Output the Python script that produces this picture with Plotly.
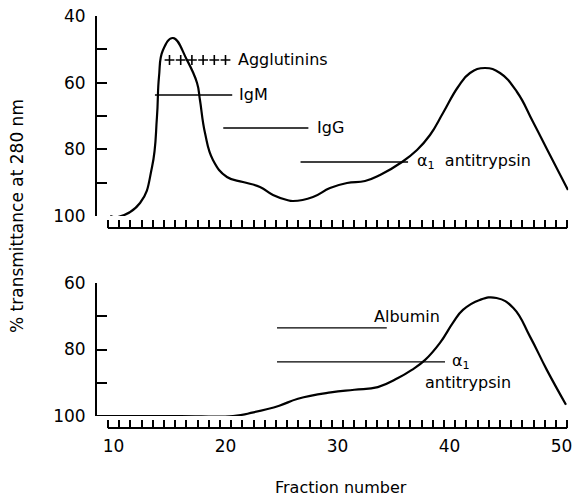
import plotly.graph_objects as go

# ---------------- data ----------------
top_fraction = [9.7, 10.4, 12.37, 13.44, 13.88, 14.06, 14.42, 15.31, 16.56, 17.46, 17.72, 18.17,
                18.88, 20.13, 21.56, 23.08, 24.24, 25.49, 26.03, 27.81, 29.33, 30.85, 32.46,
                33.80, 35.76, 37.10, 38.26, 39.42, 40.76, 41.83, 43.17, 44.51, 46.03, 47.46,
                48.97, 50.58]
top_transmittance = [100.0, 100.3, 96.1, 85.3, 70.3, 58.3, 50.2, 46.6, 53.2, 60.1, 65.2, 75.1,
                     83.2, 88.3, 89.8, 91.3, 93.7, 95.2, 95.5, 94.3, 91.6, 90.1, 89.5,
                     87.7, 83.8, 80.2, 75.7, 69.1, 61.3, 57.1, 55.6, 57.1, 62.8, 71.8,
                     81.7, 92.2]

bottom_fraction = [8.53, 12.0, 16.0, 20.67, 22.5, 24.8, 26.47, 29.4, 31.5, 33.6, 35.4, 36.6,
                   37.8, 39.15, 40.3, 41.2, 42.7, 44.2, 45.7, 47.2, 48.7, 50.4]
bottom_transmittance = [100.0, 100.0, 100.0, 100.0, 98.9, 96.9, 94.8, 92.9, 92.1, 91.3, 88.6, 86.2,
                        83.2, 78.0, 72.0, 68.1, 65.1, 64.5, 67.5, 76.2, 86.2, 96.6]

agglutinin_fractions = [15, 16, 17, 18, 19, 20]
agglutinin_level = 53.2

# bands: (label, start fraction, end fraction, level)
top_bands = [("IgM", 13.7, 20.6, 63.7),
             ("IgG", 19.8, 27.4, 73.6),
             ("α1", 26.7, 36.3, 83.8)]
bottom_bands = [("Albumin", 24.6, 34.4, 73.5),
                ("α1", 24.6, 39.6, 83.7)]

x_tick_labels = [10, 20, 30, 40, 50]
fraction_bounds = [f + 0.5 for f in range(9, 51)]
top_y_ticks = [40, 60, 80, 100]
top_y_minor = [50, 70, 90]
bottom_y_ticks = [60, 80, 100]
bottom_y_minor = [70, 90]

# ---------------- layout helpers ----------------
W, H = 573, 498
FONT = "DejaVu Sans"


def px_x(p):
    return p / W


def px_y(p):
    return 1 - p / H


x_range = [8.527, 50.6]
x_domain = [px_x(97), px_x(97 + (x_range[1] - x_range[0]) * 11.2)]

fig = go.Figure()

line_style = dict(color="black", width=2.2)
fig.add_trace(go.Scatter(x=top_fraction, y=top_transmittance, mode="lines",
                         line=dict(shape="spline", smoothing=1.3, **line_style),
                         xaxis="x", yaxis="y", showlegend=False, hoverinfo="skip"))
fig.add_trace(go.Scatter(x=bottom_fraction, y=bottom_transmittance, mode="lines",
                         line=dict(shape="spline", smoothing=1.3, **line_style),
                         xaxis="x2", yaxis="y2", showlegend=False, hoverinfo="skip"))
fig.add_trace(go.Scatter(x=agglutinin_fractions, y=[agglutinin_level] * len(agglutinin_fractions),
                         mode="markers",
                         marker=dict(symbol="cross-thin", size=7, line=dict(color="black", width=1.6)),
                         xaxis="x", yaxis="y", showlegend=False, hoverinfo="skip"))

for name, x0, x1, lev in top_bands:
    fig.add_trace(go.Scatter(x=[x0, x1], y=[lev, lev], mode="lines",
                             line=dict(color="black", width=1.3),
                             xaxis="x", yaxis="y", showlegend=False, hoverinfo="skip"))
for name, x0, x1, lev in bottom_bands:
    fig.add_trace(go.Scatter(x=[x0, x1], y=[lev, lev], mode="lines",
                             line=dict(color="black", width=1.3),
                             xaxis="x2", yaxis="y2", showlegend=False, hoverinfo="skip"))

tf = dict(family=FONT, size=17, color="black")
af = dict(family=FONT, size=16, color="black")

common_x = dict(range=x_range, domain=x_domain, anchor="free", showline=False, zeroline=False,
                showgrid=False, ticks="", tickfont=tf, automargin=False,
                minor=dict(tickmode="array", tickvals=fraction_bounds, ticks="inside",
                           ticklen=8, tickwidth=1.6, tickcolor="black", showgrid=False))

common_y = dict(showline=True, linecolor="black", linewidth=2, ticks="inside", ticklen=10,
                tickwidth=2, tickcolor="black", tickfont=tf, showgrid=False, zeroline=False,
                ticklabelstandoff=6, automargin=False)

fig.update_layout(
    width=W, height=H, margin=dict(l=0, r=0, t=0, b=0, autoexpand=False),
    paper_bgcolor="white", plot_bgcolor="white",
    font=af,
    xaxis=dict(position=px_y(228), showticklabels=False, tickvals=x_tick_labels, **common_x),
    xaxis2=dict(position=px_y(428), showticklabels=True, tickvals=x_tick_labels,
                ticktext=[str(v) for v in x_tick_labels], ticklabelstandoff=6, **common_x),
    yaxis=dict(domain=[px_y(216), px_y(16)], range=[100, 40], anchor="x",
               tickvals=top_y_ticks,
               minor=dict(tickmode="array", tickvals=top_y_minor, ticks="inside", ticklen=10,
                          tickwidth=2, tickcolor="black", showgrid=False),
               **common_y),
    yaxis2=dict(domain=[px_y(416), px_y(283)], range=[100, 60], anchor="x2",
                tickvals=bottom_y_ticks,
                minor=dict(tickmode="array", tickvals=bottom_y_minor, ticks="inside", ticklen=10,
                           tickwidth=2, tickcolor="black", showgrid=False),
                **common_y),
)

# axis baselines (ruler lines) spanning the fraction boundaries
for xr, ypos in (("x", px_y(228)), ("x2", px_y(428))):
    fig.add_shape(type="line", xref=xr, yref="paper", x0=fraction_bounds[0], x1=fraction_bounds[-1],
                  y0=ypos, y1=ypos, line=dict(color="black", width=2))

ann = []
ann.append(dict(x=20.9, y=agglutinin_level, xref="x", yref="y", text="Agglutinins",
                xanchor="left", yanchor="middle", showarrow=False, font=af))
ann.append(dict(x=21.0, y=top_bands[0][3], xref="x", yref="y", text="IgM",
                xanchor="left", yanchor="middle", showarrow=False, font=af))
ann.append(dict(x=28.0, y=top_bands[1][3], xref="x", yref="y", text="IgG",
                xanchor="left", yanchor="middle", showarrow=False, font=af))
ann.append(dict(x=36.9, y=top_bands[2][3], xref="x", yref="y",
                text="α<sub>1</sub>  antitrypsin",
                xanchor="left", yanchor="middle", showarrow=False, font=af))
ann.append(dict(x=33.1, y=70.2, xref="x2", yref="y2", text="Albumin",
                xanchor="left", yanchor="middle", showarrow=False, font=af))
ann.append(dict(x=40.0, y=bottom_bands[1][3], xref="x2", yref="y2", text="α<sub>1</sub>",
                xanchor="left", yanchor="middle", showarrow=False, font=af))
ann.append(dict(x=37.6, y=89.8, xref="x2", yref="y2", text="antitrypsin",
                xanchor="left", yanchor="middle", showarrow=False, font=af))
ann.append(dict(x=px_x(17), y=px_y(216), xref="paper", yref="paper",
                text="% transmittance at 280 nm", textangle=-90,
                xanchor="center", yanchor="middle", showarrow=False, font=tf))
ann.append(dict(x=px_x(341), y=px_y(487), xref="paper", yref="paper",
                text="Fraction number", xanchor="center", yanchor="middle",
                showarrow=False, font=dict(family=FONT, size=16, color="black")))
fig.update_layout(annotations=ann)

fig.write_html("out.html")
